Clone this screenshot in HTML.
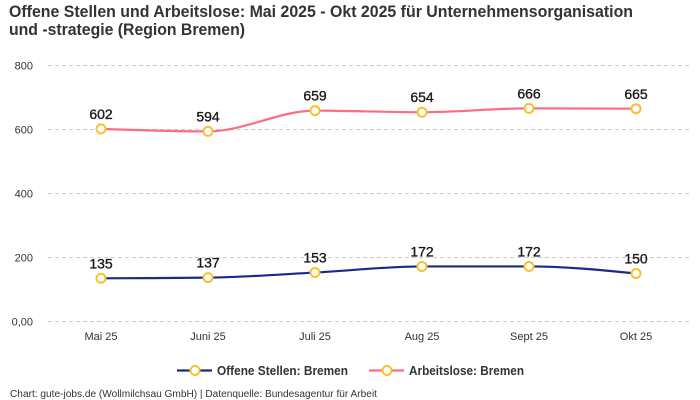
<!DOCTYPE html>
<html>
<head>
<meta charset="utf-8">
<style>
  html, body { margin: 0; padding: 0; background: #ffffff; }
  body { width: 700px; height: 400px; overflow: hidden; }
  svg { display: block; }
  text { font-family: "Liberation Sans", "DejaVu Sans", sans-serif; }
</style>
</head>
<body>
<svg width="700" height="400" viewBox="0 0 700 400" xmlns="http://www.w3.org/2000/svg">
  <rect x="0" y="0" width="700" height="400" fill="#ffffff"/>

  <!-- Title -->
  <text x="9" y="17" font-size="17" font-weight="bold" fill="#333333" textLength="624" lengthAdjust="spacingAndGlyphs">Offene Stellen und Arbeitslose: Mai 2025 - Okt 2025 für Unternehmensorganisation</text>
  <text x="9" y="35" font-size="17" font-weight="bold" fill="#333333" textLength="236" lengthAdjust="spacingAndGlyphs">und -strategie (Region Bremen)</text>

  <!-- Grid lines -->
  <g stroke="#cccccc" stroke-width="1" stroke-dasharray="4,3" fill="none">
    <line x1="48" y1="65.5" x2="690" y2="65.5"/>
    <line x1="48" y1="129.5" x2="690" y2="129.5"/>
    <line x1="48" y1="193.5" x2="690" y2="193.5"/>
    <line x1="48" y1="257.5" x2="690" y2="257.5"/>
    <line x1="48" y1="321.5" x2="690" y2="321.5"/>
  </g>

  <!-- Y axis labels -->
  <g font-size="11" fill="#333333" text-anchor="end">
    <text x="33" y="69.5">800</text>
    <text x="33" y="133.5">600</text>
    <text x="33" y="197.5">400</text>
    <text x="33" y="261.5">200</text>
    <text x="33" y="325.5">0,00</text>
  </g>

  <!-- X axis labels -->
  <g font-size="11" fill="#333333" text-anchor="middle">
    <text x="101" y="340">Mai 25</text>
    <text x="208" y="340">Juni 25</text>
    <text x="315" y="340">Juli 25</text>
    <text x="422" y="340">Aug 25</text>
    <text x="529" y="340">Sept 25</text>
    <text x="636" y="340">Okt 25</text>
  </g>

  <!-- Arbeitslose line (pink) -->
  <path d="M101,128.86 C136.67,130.14 172.33,131.42 208,131.42 C243.67,131.42 279.33,110.62 315,110.62 C350.67,110.62 386.33,112.22 422,112.22 C457.67,112.22 493.33,108.38 529,108.38 C564.67,108.38 600.33,108.54 636,108.70"
        fill="none" stroke="#ff6b81" stroke-width="2.2" stroke-linecap="round"/>

  <!-- Offene Stellen line (navy) -->
  <path d="M101,278.3 C136.67,278.19 172.33,278.09 208,277.66 C243.67,277.23 279.33,274.41 315,272.54 C350.67,270.67 386.33,266.46 422,266.46 C457.67,266.46 493.33,266.46 529,266.46 C564.67,266.46 600.33,269.98 636,273.5"
        fill="none" stroke="#182b8a" stroke-width="2.2" stroke-linecap="round"/>

  <!-- Markers -->
  <g fill="#ffffff" stroke="#fbc02d" stroke-width="2">
    <circle cx="101" cy="128.86" r="4.5"/>
    <circle cx="208" cy="131.42" r="4.5"/>
    <circle cx="315" cy="110.62" r="4.5"/>
    <circle cx="422" cy="112.22" r="4.5"/>
    <circle cx="529" cy="108.38" r="4.5"/>
    <circle cx="636" cy="108.70" r="4.5"/>

    <circle cx="101" cy="278.3" r="4.5"/>
    <circle cx="208" cy="277.66" r="4.5"/>
    <circle cx="315" cy="272.54" r="4.5"/>
    <circle cx="422" cy="266.46" r="4.5"/>
    <circle cx="529" cy="266.46" r="4.5"/>
    <circle cx="636" cy="273.5" r="4.5"/>
  </g>

  <!-- Value labels -->
  <g font-size="14" fill="#1a1a1a" stroke="#1a1a1a" stroke-width="0.35" text-anchor="middle">
    <text x="101" y="119">602</text>
    <text x="208" y="121.5">594</text>
    <text x="315" y="100.5">659</text>
    <text x="422" y="102">654</text>
    <text x="529" y="98.5">666</text>
    <text x="636" y="99">665</text>

    <text x="101" y="268.3">135</text>
    <text x="208" y="267.7">137</text>
    <text x="315" y="262.5">153</text>
    <text x="422" y="256.5">172</text>
    <text x="529" y="256.5">172</text>
    <text x="636" y="263.5">150</text>
  </g>

  <!-- Legend -->
  <line x1="177" y1="370.5" x2="212" y2="370.5" stroke="#182b8a" stroke-width="2.2"/>
  <circle cx="195" cy="370.5" r="4.5" fill="#ffffff" stroke="#fbc02d" stroke-width="2"/>
  <text x="217" y="375" font-size="12.5" font-weight="bold" fill="#333333" textLength="131" lengthAdjust="spacingAndGlyphs">Offene Stellen: Bremen</text>

  <line x1="369" y1="370.5" x2="404" y2="370.5" stroke="#ff6b81" stroke-width="2.2"/>
  <circle cx="387" cy="370.5" r="4.5" fill="#ffffff" stroke="#fbc02d" stroke-width="2"/>
  <text x="409" y="375" font-size="12.5" font-weight="bold" fill="#333333" textLength="115" lengthAdjust="spacingAndGlyphs">Arbeitslose: Bremen</text>

  <!-- Footer -->
  <text x="10" y="397" font-size="10" fill="#333333" textLength="367" lengthAdjust="spacingAndGlyphs">Chart: gute-jobs.de (Wollmilchsau GmbH) | Datenquelle: Bundesagentur für Arbeit</text>
</svg>
</body>
</html>
